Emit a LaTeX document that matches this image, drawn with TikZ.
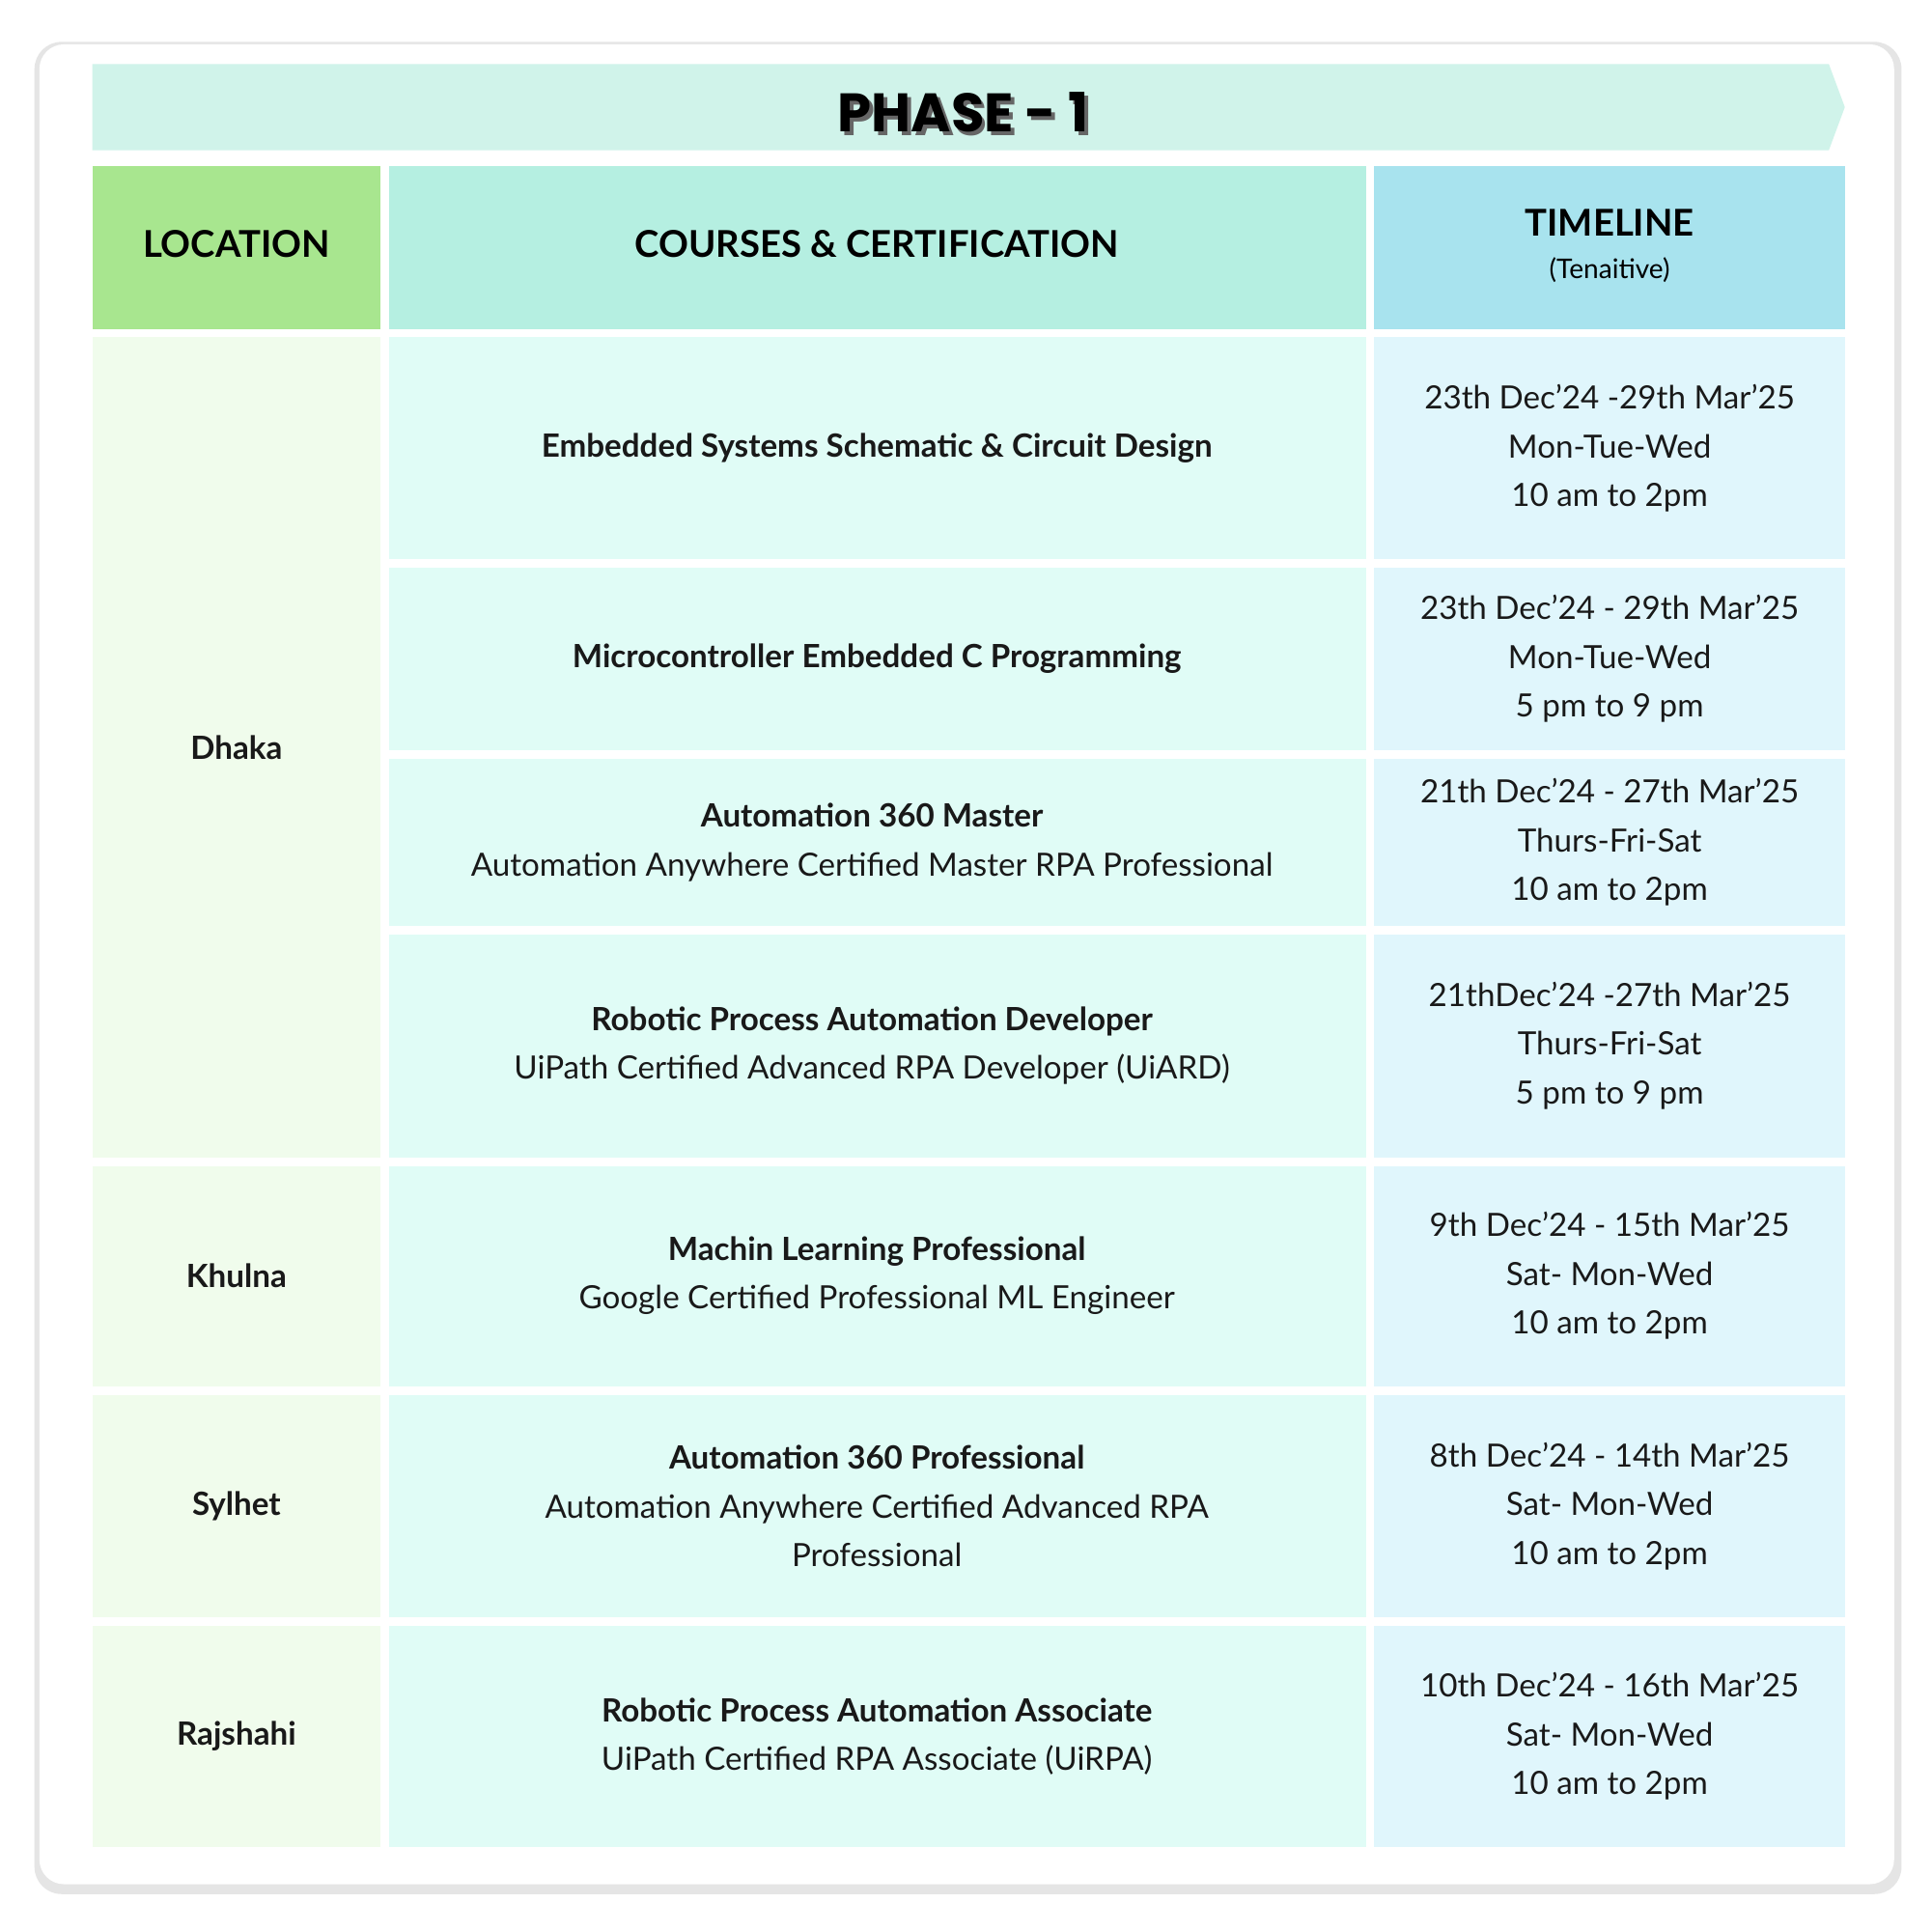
\documentclass[tikz,border=0pt]{standalone}
\usepackage{fontspec}
\setmainfont{Lato}
\newfontfamily\phasefont{Poppins}
\usetikzlibrary{shadows}
\definecolor{bannerc}{HTML}{D0F3EA}
\definecolor{hloc}{HTML}{A8E68F}
\definecolor{hcour}{HTML}{B5EFE1}
\definecolor{htime}{HTML}{A8E3EE}
\definecolor{cloc}{HTML}{F0FCEC}
\definecolor{ccour}{HTML}{E0FCF6}
\definecolor{ctime}{HTML}{E0F6FC}
\begin{document}
\begin{tikzpicture}[x=1pt,y=-1pt,
  txt/.style={align=center,font=\fontsize{26}{39.5}\selectfont,text=black!90},
  hdr/.style={align=center,font=\fontsize{30}{36}\selectfont\bfseries}]
\useasboundingbox[fill=white] (0,0) rectangle (1568,1568);
\fill[black!10,rounded corners=22] (28,34) rectangle (1544,1538);
\fill[white,rounded corners=20] (32,36) rectangle (1538,1530);
\fill[bannerc] (75,52) -- (1485,52) -- (1498,87) -- (1485,122) -- (75,122) -- cycle;
\node[font=\phasefont\fontsize{44}{48}\selectfont\bfseries,text=black!60] at (785,94) {PHASE - 1};
\node[font=\phasefont\fontsize{44}{48}\selectfont\bfseries] (ph) at (782,91) {PHASE - 1};
% header
\fill[hloc] (75,135) rectangle (309,267);
\fill[hcour] (316,135) rectangle (1109,267);
\fill[htime] (1116,135) rectangle (1498,267);
\node[hdr] (hl) at (192,198) {LOCATION};
\node[hdr] (hc) at (712,198) {COURSES \& CERTIFICATION};
\node[hdr] (ht) at (1307,181) {TIMELINE};
\node[font=\fontsize{22}{26}\selectfont] (ht2) at (1307,219) {(Tenaitive)};
% location cells
\fill[cloc] (75,274) rectangle (309,940);
\fill[cloc] (75,947) rectangle (309,1126);
\fill[cloc] (75,1133) rectangle (309,1313);
\fill[cloc] (75,1320) rectangle (309,1500);
\node[txt,font=\fontsize{26}{39.5}\selectfont\bfseries] (l1) at (192,607) {Dhaka};
\node[txt,font=\fontsize{26}{39.5}\selectfont\bfseries] (l2) at (192,1036) {Khulna};
\node[txt,font=\fontsize{26}{39.5}\selectfont\bfseries] (l3) at (192,1223) {Sylhet};
\node[txt,font=\fontsize{26}{39.5}\selectfont\bfseries] (l4) at (192,1410) {Rajshahi};
% rows
\foreach \a/\b in {274/454,461/609,616/752,759/940,947/1126,1133/1313,1320/1500}{
  \fill[ccour] (316,\a) rectangle (1109,\b);
  \fill[ctime] (1116,\a) rectangle (1498,\b);
}
\node[txt] (c1) at (712,364) {\textbf{Embedded Systems Schematic \& Circuit Design}};
\node[txt] (c2) at (712,535) {\textbf{Microcontroller Embedded C Programming}};
\node[txt] (c3) at (708,684) {\textbf{Automation 360 Master}\\Automation Anywhere Certified Master RPA Professional};
\node[txt] (c4) at (708,849) {\textbf{Robotic Process Automation Developer}\\UiPath Certified Advanced RPA Developer (UiARD)};
\node[txt] (c5) at (712,1036) {\textbf{Machin Learning Professional}\\Google Certified Professional ML Engineer};
\node[txt] (c6) at (712,1223) {\textbf{Automation 360 Professional}\\Automation Anywhere Certified Advanced RPA\\Professional};
\node[txt] (c7) at (712,1410) {\textbf{Robotic Process Automation Associate}\\UiPath Certified RPA Associate (UiRPA)};
\node[txt] (t1) at (1307,364) {23th Dec'24 -29th Mar'25\\Mon-Tue-Wed\\10 am to 2pm};
\node[txt] (t2) at (1307,535) {23th Dec'24 - 29th Mar'25\\Mon-Tue-Wed\\5 pm to 9 pm};
\node[txt] (t3) at (1307,684) {21th Dec'24 - 27th Mar'25\\Thurs-Fri-Sat\\10 am to 2pm};
\node[txt] (t4) at (1307,849) {21thDec'24 -27th Mar'25\\Thurs-Fri-Sat\\5 pm to 9 pm};
\node[txt] (t5) at (1307,1036) {9th Dec'24 - 15th Mar'25\\Sat- Mon-Wed\\10 am to 2pm};
\node[txt] (t6) at (1307,1223) {8th Dec'24 - 14th Mar'25\\Sat- Mon-Wed\\10 am to 2pm};
\node[txt] (t7) at (1307,1410) {10th Dec'24 - 16th Mar'25\\Sat- Mon-Wed\\10 am to 2pm};
\end{tikzpicture}
\end{document}
